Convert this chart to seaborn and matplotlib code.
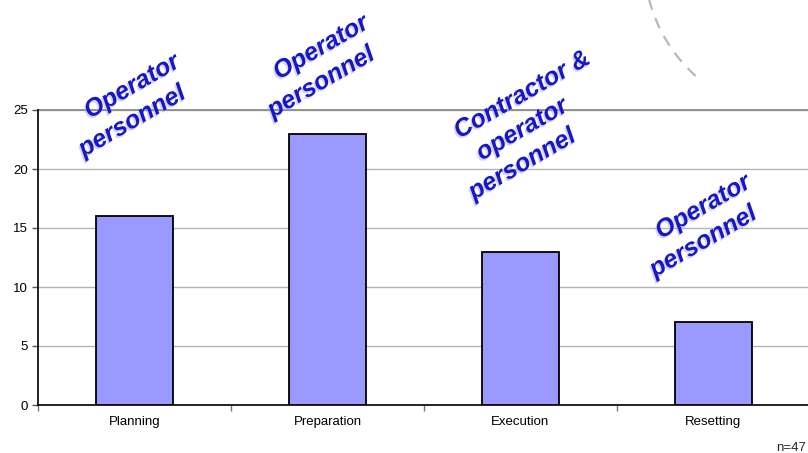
import matplotlib
matplotlib.use("Agg")
import matplotlib.pyplot as plt
import matplotlib.patheffects as pe
from matplotlib.patches import Arc
from matplotlib.transforms import IdentityTransform
import seaborn as sns
import pandas as pd

categories = ["Planning", "Preparation", "Execution", "Resetting"]
values = [16, 23, 13, 7]
annotations = [["Operator", "personnel"], ["Operator", "personnel"],
               ["Contractor &", "operator", "personnel"], ["Operator", "personnel"]]
yticks = [0, 5, 10, 15, 20, 25]
note = "n=47"

sns.set_theme(style="white")
plt.rcParams["font.family"] = ["Liberation Sans", "DejaVu Sans"]

df = pd.DataFrame({"phase": categories, "count": values})

fig = plt.figure(figsize=(8.08, 4.53), dpi=100)
ax = fig.add_axes([38 / 808, 48 / 453, 772 / 808, 295 / 453])

sns.barplot(data=df, x="phase", y="count", color="#9999ff", saturation=1,
            edgecolor="black", linewidth=1.3, width=0.4, ax=ax, zorder=3)

ax.set_xlim(-0.5, 3.5)
ax.set_ylim(0, 25)
ax.set_yticks(yticks)
ax.yaxis.grid(True, color="#b4b4b4", linewidth=1, zorder=0)
ax.set_axisbelow(True)
ax.set_xlabel("")
ax.set_ylabel("")
for s in ["top", "right"]:
    ax.spines[s].set_visible(False)
for s in ["left", "bottom"]:
    ax.spines[s].set_color("black")
    ax.spines[s].set_linewidth(1.2)
ax.tick_params(axis="y", left=True, length=4, width=1, color="#555555",
               labelsize=9.5, pad=3, labelcolor="black")
ax.tick_params(axis="x", bottom=False, length=0, labelsize=9.5, pad=8,
               labelcolor="black")
ax.set_xticks([-0.5, 0.5, 1.5, 2.5, 3.5], minor=True)
ax.tick_params(axis="x", which="minor", bottom=True, length=4, width=1,
               color="#777777")
ax.axhline(25, color="#8c8c8c", linewidth=1.3, zorder=1, clip_on=False)

# annotation placement: centre of first line (x, y data) for each phase
ann_pos = [(-0.013, 27.0), (0.966, 30.3), (2.008, 26.3), (2.946, 16.8)]
shadow = [pe.withSimplePatchShadow(offset=(-1, -1.5), shadow_rgbFace="#a0a0e8",
                                   alpha=0.45)]
for (xp, yp), lines in zip(ann_pos, annotations):
    for i, line in enumerate(lines):
        ax.annotate(line, xy=(xp, yp), xytext=(0, -25 * i),
                    textcoords="offset points", ha="center", va="center",
                    rotation=30, rotation_mode="anchor", fontsize=18,
                    fontweight="bold", fontstyle="italic", color="#1717c8",
                    annotation_clip=False, zorder=5, path_effects=shadow)

arc = Arc((800, 493), 312, 312, theta1=194.5, theta2=229,
          transform=IdentityTransform(), color="#b8b8b8", linewidth=1.6,
          linestyle=(0, (5, 4)))
fig.patches.append(arc)

fig.text(806 / 808, 1 - 448 / 453, note, fontsize=9.5, ha="right", va="center")

fig.savefig("out.png", dpi=100)
